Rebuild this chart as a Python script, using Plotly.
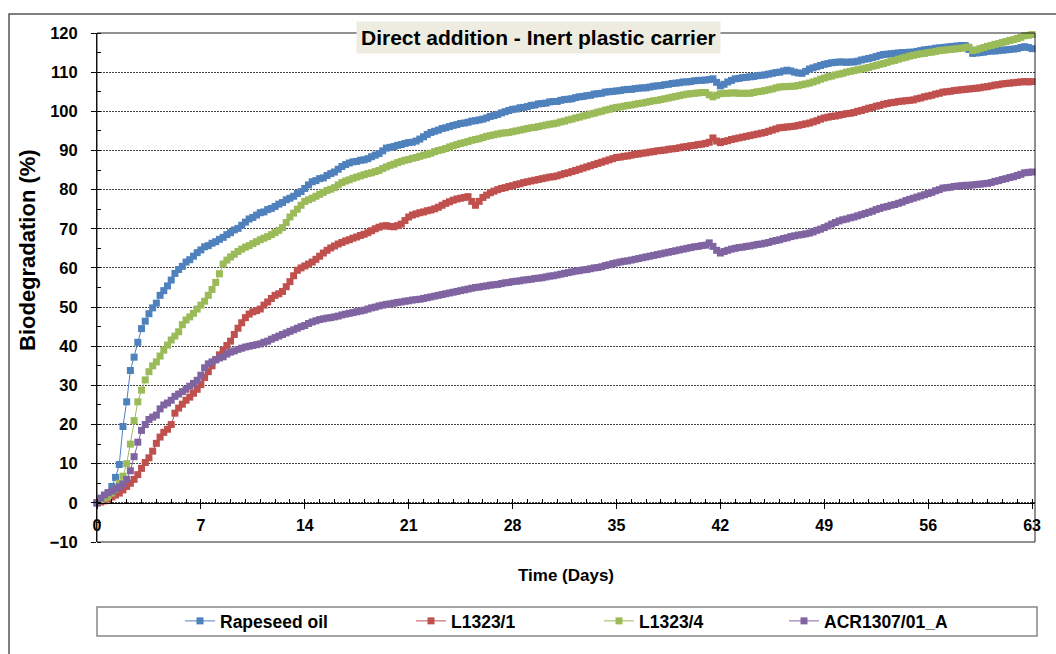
import plotly.graph_objects as go

# ---------------- data ----------------
days = [i / 4 for i in range(253)]  # sampling grid, every 6 h, 0..63 days

series_names = ["Rapeseed oil", "L1323/1", "L1323/4", "ACR1307/01_A"]
series_colors = ["#4F81BD", "#C0504D", "#9BBB59", "#8064A2"]

rapeseed_oil = [
    0.0, 0.6, 1.4, 2.5, 4.2, 6.5, 9.8, 19.5,
    25.8, 33.8, 37.2, 41.0, 44.5, 46.4, 48.3, 49.8,
    51.0, 53.0, 54.2, 55.4, 56.9, 58.6, 59.6, 60.4,
    61.5, 62.1, 63.0, 63.9, 64.6, 65.4, 65.7, 66.3,
    66.7, 67.3, 67.8, 68.5, 69.0, 69.7, 70.1, 70.9,
    71.7, 72.5, 72.9, 73.5, 74.1, 74.3, 74.9, 75.2,
    75.7, 76.3, 76.7, 77.4, 77.8, 78.3, 79.0, 79.5,
    80.3, 81.2, 82.0, 82.3, 82.8, 83.0, 83.6, 84.1,
    84.5, 85.2, 85.9, 86.4, 86.8, 87.1, 87.2, 87.5,
    87.6, 87.9, 88.4, 88.8, 89.2, 89.9, 90.6, 90.8,
    91.0, 91.3, 91.5, 91.8, 92.0, 92.1, 92.4, 92.9,
    93.5, 94.1, 94.6, 94.9, 95.2, 95.6, 95.8, 96.1,
    96.4, 96.6, 96.9, 97.0, 97.2, 97.5, 97.6, 97.8,
    98.0, 98.3, 98.7, 98.9, 99.2, 99.6, 99.9, 100.2,
    100.5, 100.6, 100.9, 101.0, 101.2, 101.5, 101.6, 101.9,
    102.0, 102.1, 102.4, 102.5, 102.5, 102.8, 103.0, 103.1,
    103.2, 103.5, 103.7, 103.8, 104.0, 104.1, 104.4, 104.5,
    104.6, 104.9, 105.0, 105.1, 105.2, 105.3, 105.5, 105.6,
    105.6, 105.8, 105.9, 106.0, 106.0, 106.2, 106.4, 106.5,
    106.6, 106.8, 106.9, 107.1, 107.2, 107.3, 107.5, 107.5,
    107.6, 107.8, 107.9, 107.9, 108.0, 108.1, 108.3, 107.4,
    106.5, 106.9, 107.5, 107.9, 108.3, 108.4, 108.6, 108.7,
    108.8, 108.9, 109.1, 109.2, 109.3, 109.5, 109.7, 109.9,
    110.0, 110.3, 110.5, 110.3, 110.0, 109.8, 109.7, 110.2,
    110.8, 111.1, 111.4, 111.7, 112.0, 112.2, 112.4, 112.5,
    112.6, 112.6, 112.5, 112.6, 112.6, 112.8, 113.1, 113.3,
    113.5, 113.7, 114.0, 114.3, 114.5, 114.6, 114.7, 114.8,
    114.9, 115.0, 115.0, 115.1, 115.1, 115.3, 115.5, 115.7,
    115.8, 115.9, 116.1, 116.2, 116.3, 116.4, 116.5, 116.6,
    116.7, 116.8, 116.8, 115.8, 114.8, 114.9, 115.0, 115.1,
    115.3, 115.4, 115.4, 115.5, 115.6, 115.7, 115.8, 115.9,
    116.0, 116.3, 116.5, 116.3, 116.0,
]

l1323_1 = [
    0.0, 0.2, 0.5, 1.0, 1.5, 2.0, 2.5, 3.3,
    4.2, 5.0, 6.0, 7.2, 8.8, 10.3, 11.5, 13.2,
    15.2, 16.8, 18.0, 18.8, 20.0, 22.9, 24.2, 25.2,
    26.2, 27.0, 28.0, 29.0, 30.2, 32.0, 33.5, 35.0,
    36.6, 37.8, 39.0, 40.2, 41.3, 43.0, 44.6, 46.0,
    47.3, 48.2, 48.8, 49.1, 49.5, 50.5, 51.3, 52.2,
    53.0, 53.4, 54.0, 55.2, 56.5, 58.0, 59.4, 60.0,
    60.5, 61.0, 61.5, 62.2, 63.0, 63.8, 64.5, 65.1,
    65.6, 66.1, 66.5, 66.9, 67.2, 67.6, 67.9, 68.3,
    68.6, 69.0, 69.5, 70.0, 70.4, 70.7, 70.8, 70.6,
    70.5, 70.8, 71.2, 72.1, 73.0, 73.5, 73.8, 74.1,
    74.3, 74.6, 74.8, 75.1, 75.5, 76.0, 76.5, 76.9,
    77.3, 77.6, 77.8, 78.0, 78.2, 77.0, 76.0, 77.0,
    78.0, 78.6, 79.2, 79.6, 80.0, 80.3, 80.5, 80.8,
    81.0, 81.3, 81.5, 81.8, 82.0, 82.2, 82.4, 82.6,
    82.8, 83.0, 83.2, 83.3, 83.5, 83.8, 84.1, 84.3,
    84.6, 84.9, 85.2, 85.5, 85.8, 86.1, 86.4, 86.7,
    87.0, 87.3, 87.6, 87.9, 88.2, 88.3, 88.5, 88.6,
    88.8, 89.0, 89.1, 89.3, 89.4, 89.6, 89.7, 89.9,
    90.0, 90.1, 90.3, 90.4, 90.5, 90.7, 90.9, 91.0,
    91.2, 91.3, 91.5, 91.6, 91.8, 92.1, 93.2, 92.4,
    92.0, 92.3, 92.5, 92.8, 93.0, 93.2, 93.4, 93.6,
    93.8, 94.0, 94.2, 94.4, 94.6, 94.9, 95.2, 95.5,
    95.8, 95.9, 96.0, 96.1, 96.2, 96.4, 96.6, 96.8,
    97.0, 97.3, 97.6, 98.0, 98.3, 98.5, 98.7, 98.8,
    99.0, 99.2, 99.4, 99.5, 99.7, 100.0, 100.2, 100.5,
    100.8, 101.0, 101.3, 101.5, 101.8, 102.0, 102.2, 102.3,
    102.5, 102.6, 102.7, 102.8, 102.9, 103.2, 103.4, 103.7,
    103.9, 104.1, 104.4, 104.6, 104.9, 105.0, 105.1, 105.3,
    105.4, 105.5, 105.6, 105.7, 105.8, 105.9, 106.0, 106.2,
    106.3, 106.5, 106.7, 106.8, 107.0, 107.1, 107.2, 107.3,
    107.4, 107.5, 107.6, 107.5, 107.6,
]

l1323_4 = [
    0.0, 0.8, 1.2, 1.5, 2.5, 3.5, 5.0, 6.8,
    10.0, 15.0, 21.0, 25.8, 28.8, 31.4, 33.5, 35.0,
    36.0, 37.5, 39.0, 40.3, 41.6, 42.6, 43.7, 45.5,
    46.7, 47.5, 48.4, 49.5, 50.5, 51.5, 53.0, 54.5,
    56.3, 58.5, 61.0, 62.0, 62.8, 63.5, 64.2, 64.8,
    65.3, 65.7, 66.2, 66.7, 67.2, 67.6, 68.0, 68.5,
    69.0, 69.6, 70.3, 71.6, 73.0, 74.0, 75.0, 76.0,
    77.0, 77.4, 77.8, 78.3, 78.8, 79.3, 79.8, 80.1,
    80.5, 81.2, 81.8, 82.2, 82.5, 82.9, 83.2, 83.5,
    83.8, 84.1, 84.3, 84.6, 84.9, 85.4, 85.8, 86.2,
    86.5, 86.9, 87.2, 87.5, 87.7, 88.0, 88.2, 88.5,
    88.8, 89.0, 89.3, 89.7, 90.0, 90.2, 90.5, 90.9,
    91.2, 91.5, 91.8, 92.0, 92.3, 92.6, 92.8, 93.0,
    93.3, 93.6, 93.8, 94.0, 94.2, 94.4, 94.5, 94.6,
    94.8, 95.0, 95.2, 95.4, 95.6, 95.8, 95.9, 96.1,
    96.3, 96.5, 96.7, 96.8, 97.0, 97.3, 97.5, 97.8,
    98.0, 98.3, 98.5, 98.8, 99.0, 99.3, 99.5, 99.8,
    100.0, 100.3, 100.5, 100.8, 101.0, 101.1, 101.3, 101.5,
    101.6, 101.8, 102.0, 102.1, 102.3, 102.5, 102.7, 102.8,
    103.0, 103.2, 103.4, 103.6, 103.8, 104.0, 104.2, 104.4,
    104.5, 104.6, 104.7, 104.8, 104.8, 104.2, 103.7, 104.1,
    104.5, 104.6, 104.6, 104.7, 104.7, 104.6, 104.6, 104.6,
    104.6, 104.8, 105.0, 105.1, 105.3, 105.5, 105.7, 106.0,
    106.2, 106.3, 106.3, 106.4, 106.4, 106.6, 106.8, 107.0,
    107.2, 107.5, 107.8, 108.2, 108.5, 108.8, 109.0, 109.3,
    109.5, 109.7, 110.0, 110.2, 110.4, 110.6, 110.8, 111.0,
    111.2, 111.5, 111.7, 112.0, 112.2, 112.5, 112.8, 113.0,
    113.3, 113.6, 113.8, 114.1, 114.3, 114.5, 114.7, 114.8,
    115.0, 115.1, 115.3, 115.5, 115.6, 115.7, 115.8, 115.9,
    116.0, 116.1, 116.3, 116.4, 115.5, 115.7, 116.0, 116.3,
    116.6, 116.8, 117.1, 117.3, 117.6, 117.8, 118.1, 118.3,
    118.6, 118.9, 119.3, 119.4, 119.6,
]

acr1307_01_a = [
    0.0, 1.2, 2.0, 2.6, 3.0, 3.6, 4.1, 4.8,
    6.0, 8.2, 11.8, 15.5, 18.5, 20.0, 21.3, 21.9,
    22.4, 24.0, 25.0, 25.5, 26.2, 27.2, 27.8, 28.4,
    29.0, 29.8, 30.5, 31.3, 32.6, 34.5, 35.5, 36.0,
    36.5, 37.0, 37.3, 38.0, 38.5, 38.8, 39.2, 39.5,
    39.8, 40.0, 40.2, 40.4, 40.6, 41.0, 41.3, 41.8,
    42.2, 42.6, 43.0, 43.4, 43.8, 44.2, 44.6, 45.0,
    45.3, 45.8, 46.2, 46.5, 46.8, 47.0, 47.2, 47.3,
    47.5, 47.7, 48.0, 48.2, 48.4, 48.6, 48.8, 49.0,
    49.2, 49.5, 49.8, 50.0, 50.3, 50.5, 50.7, 50.8,
    51.0, 51.2, 51.3, 51.5, 51.6, 51.8, 51.9, 52.0,
    52.2, 52.4, 52.6, 52.8, 53.0, 53.2, 53.4, 53.6,
    53.8, 54.0, 54.2, 54.4, 54.6, 54.8, 55.0, 55.1,
    55.3, 55.4, 55.6, 55.7, 55.8, 56.0, 56.2, 56.3,
    56.5, 56.6, 56.7, 56.9, 57.0, 57.1, 57.3, 57.4,
    57.5, 57.7, 57.9, 58.0, 58.2, 58.4, 58.6, 58.8,
    59.0, 59.2, 59.3, 59.5, 59.6, 59.8, 60.0, 60.1,
    60.3, 60.6, 60.8, 61.1, 61.3, 61.5, 61.7, 61.8,
    62.0, 62.2, 62.4, 62.6, 62.8, 63.0, 63.2, 63.4,
    63.6, 63.8, 64.0, 64.2, 64.4, 64.6, 64.8, 65.0,
    65.2, 65.4, 65.5, 65.7, 65.8, 66.4, 65.5, 64.5,
    63.8, 64.2, 64.5, 64.8, 65.0, 65.2, 65.3, 65.5,
    65.6, 65.8, 66.0, 66.1, 66.3, 66.5, 66.8, 67.0,
    67.2, 67.5, 67.7, 68.0, 68.2, 68.4, 68.5, 68.7,
    68.9, 69.2, 69.6, 69.9, 70.3, 70.7, 71.2, 71.6,
    72.0, 72.3, 72.5, 72.8, 73.0, 73.3, 73.6, 73.9,
    74.2, 74.5, 74.9, 75.2, 75.5, 75.7, 76.0, 76.2,
    76.5, 76.8, 77.2, 77.5, 77.8, 78.1, 78.4, 78.7,
    79.0, 79.3, 79.7, 80.0, 80.4, 80.5, 80.6, 80.8,
    80.9, 81.0, 81.1, 81.1, 81.2, 81.3, 81.4, 81.5,
    81.6, 81.8, 82.1, 82.3, 82.6, 82.8, 83.1, 83.3,
    83.6, 83.9, 84.3, 84.4, 84.5,
]

all_series = [rapeseed_oil, l1323_1, l1323_4, acr1307_01_a]

title_text = "Direct addition - Inert plastic carrier"
x_title = "Time (Days)"
y_title = "Biodegradation (%)"

# ---------------- figure ----------------
FONT = "Arial, 'Liberation Sans', sans-serif"
W, H = 1056, 654
ML, MR, MT, MB = 97, 21, 33, 112
PW, PH = W - ML - MR, H - MT - MB


def px_x(px):
    return (px - ML) / PW


def px_y(py):
    return (H - MB - py) / PH


fig = go.Figure()
legend_ids = ["legend", "legend2", "legend3", "legend4"]
for name, color, vals, lg in zip(series_names, series_colors, all_series, legend_ids):
    n = min(len(days), len(vals))
    fig.add_trace(go.Scatter(
        x=days[:n], y=vals[:n], name=name, mode="lines+markers",
        line=dict(color=color, width=1),
        marker=dict(symbol="square", size=7, color=color, line=dict(width=0)),
        cliponaxis=False, legend=lg,
    ))

legend_text_x = [222, 453, 641, 826]
legend_layout = {}
for lg, tx in zip(legend_ids, legend_text_x):
    legend_layout[lg] = dict(
        x=px_x(tx - 42), xanchor="left", y=px_y(621), yanchor="middle",
        orientation="h", bgcolor="rgba(0,0,0,0)", borderwidth=0,
        font=dict(family=FONT, size=17.5, color="#000", weight="bold"),
        itemwidth=30,
    )

y0_frac = (0 - (-10)) / 130.0

fig.update_layout(
    width=W, height=H,
    margin=dict(l=ML, r=MR, t=MT, b=MB, autoexpand=False),
    paper_bgcolor="white", plot_bgcolor="white",
    font=dict(family=FONT, color="#000"),
    showlegend=True,
    **legend_layout,
    xaxis=dict(
        range=[0, 63.2], tick0=0, dtick=7, anchor="free", position=y0_frac,
        showline=True, linecolor="#000", linewidth=1,
        ticks="outside", ticklen=5, tickcolor="#000", ticklabelstandoff=3,
        minor=dict(dtick=1, ticks="inside", ticklen=4, tickcolor="#000", showgrid=False),
        showgrid=False, zeroline=False,
        tickfont=dict(family=FONT, size=16, color="#000", weight="bold"),
        title=dict(text=x_title, standoff=36,
                   font=dict(family=FONT, size=17, color="#000", weight="bold")),
    ),
    yaxis=dict(
        range=[-10, 120], tick0=0, dtick=10,
        showline=True, linecolor="#000", linewidth=1,
        ticks="outside", ticklen=5, tickcolor="#000", ticklabelstandoff=10,
        minor=dict(dtick=5, ticks="inside", ticklen=4, tickcolor="#000", showgrid=False),
        showgrid=True, gridcolor="#444", gridwidth=1, griddash="2px,1px",
        zeroline=False,
        tickfont=dict(family=FONT, size=16.5, color="#000", weight="bold"),
    ),
    shapes=[
        # plot frame
        dict(type="rect", xref="paper", yref="paper", x0=0, x1=1, y0=0, y1=1,
             line=dict(color="#222", width=1), layer="above"),
        # outer chart border
        dict(type="rect", xref="paper", yref="paper",
             x0=px_x(9), x1=px_x(1070), y0=px_y(670), y1=px_y(14),
             line=dict(color="#555", width=1.5), layer="below"),
        # legend box
        dict(type="rect", xref="paper", yref="paper",
             x0=px_x(97), x1=px_x(1037), y0=px_y(636), y1=px_y(607),
             line=dict(color="#888", width=1.5), layer="below"),
    ],
    annotations=[
        dict(text="<b>" + title_text + "</b>", xref="paper", yref="paper",
             x=px_x(538), y=px_y(37), xanchor="center", yanchor="middle",
             showarrow=False, bgcolor="#EEECE1", borderpad=4,
             font=dict(family=FONT, size=21, color="#000")),
        dict(text="<b>" + y_title + "</b>", xref="paper", yref="paper",
             x=px_x(27), y=px_y(250), xanchor="center", yanchor="middle",
             textangle=-90, showarrow=False,
             font=dict(family=FONT, size=22, color="#000")),
    ],
)

fig.write_html("out.html")
